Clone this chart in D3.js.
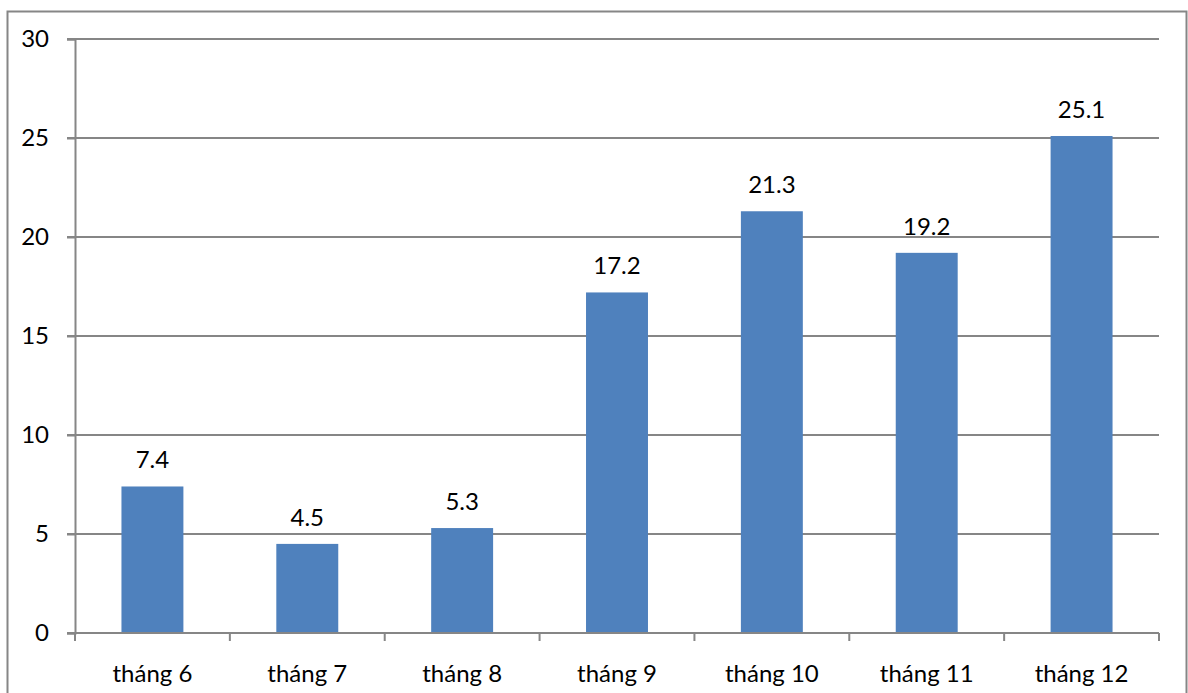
<!DOCTYPE html>
<html>
<head>
<meta charset="utf-8">
<script src="https://cdn.jsdelivr.net/npm/d3@7"></script>
<style>
  body { margin: 0; background: #fff; }
  text { font-family: Lato, "Open Sans", sans-serif; fill: #000; }
</style>
</head>
<body>
<div id="chart"></div>
<script>
// data
const months = ['tháng 6', 'tháng 7', 'tháng 8', 'tháng 9', 'tháng 10', 'tháng 11', 'tháng 12']
const values = [7.4, 4.5, 5.3, 17.2, 21.3, 19.2, 25.1]
const yTicks = [0, 5, 10, 15, 20, 25, 30]

const W = 1188
const H = 693
const barColor = '#4f81bd'
const lineColor = '#868686'
const fontSize = 24

const plot = {left: 75, right: 1159, top: 39, bottom: 633}

const svg = d3.select('#chart').append('svg')
      .attr('width', W)
      .attr('height', H)

// outer frame
svg.append('rect')
      .attr('x', 7.5).attr('y', 11.5)
      .attr('width', 1179).attr('height', 700)
      .attr('fill', 'none')
      .attr('stroke', lineColor)
      .attr('stroke-width', 2)

const x = d3.scaleBand()
      .domain(months)
      .range([plot.left, plot.right])
      .paddingInner(0.6)
      .paddingOuter(0.3)

const xb = d3.scaleBand().domain(months).range([plot.left, plot.right])

const y = d3.scaleLinear()
      .domain([0, 30])
      .range([plot.bottom, plot.top])

// gridlines
svg.append('g').selectAll('line')
      .data(yTicks.filter(d => d > 0)).enter().append('line')
      .attr('x1', plot.left - 8).attr('x2', plot.right)
      .attr('y1', d => y(d)).attr('y2', d => y(d))
      .attr('stroke', lineColor)
      .attr('stroke-width', 2)

// y axis
const yAxis = svg.append('g')
      .attr('transform', 'translate(' + plot.left + ',0)')
      .call(d3.axisLeft(y).tickValues(yTicks).tickSize(8).tickPadding(18))
yAxis.select('.domain').attr('stroke', lineColor).attr('stroke-width', 2)
yAxis.selectAll('line').attr('stroke', lineColor).attr('stroke-width', 2)
yAxis.selectAll('text').style('font-size', fontSize + 'px')
      .style('font-family', 'Lato, sans-serif')

// bars
svg.append('g').selectAll('rect')
      .data(values).enter().append('rect')
      .attr('x', (d, i) => x(months[i]))
      .attr('width', x.bandwidth())
      .attr('y', d => y(d))
      .attr('height', d => y(0) - y(d))
      .attr('fill', barColor)

// value labels
svg.append('g').selectAll('text')
      .data(values).enter().append('text')
      .attr('x', (d, i) => x(months[i]) + x.bandwidth() / 2)
      .attr('y', d => y(d) - 18)
      .attr('text-anchor', 'middle')
      .style('font-size', fontSize + 'px')
      .text(d => d.toFixed(1))

// x axis
const xAxis = svg.append('g')
      .attr('transform', 'translate(0,' + plot.bottom + ')')
xAxis.append('line')
      .attr('x1', plot.left - 8).attr('x2', plot.right)
      .attr('stroke', lineColor).attr('stroke-width', 2)
xAxis.selectAll('line.tick')
      .data(months.map(m => xb(m)).concat([plot.right])).enter().append('line')
      .attr('class', 'tick')
      .attr('x1', d => d).attr('x2', d => d)
      .attr('y1', 0).attr('y2', 8)
      .attr('stroke', lineColor).attr('stroke-width', 2)
xAxis.selectAll('text')
      .data(months).enter().append('text')
      .attr('x', d => xb(d) + xb.bandwidth() / 2)
      .attr('y', 49)
      .attr('text-anchor', 'middle')
      .style('font-size', fontSize + 'px')
      .text(d => d)
</script>
</body>
</html>
